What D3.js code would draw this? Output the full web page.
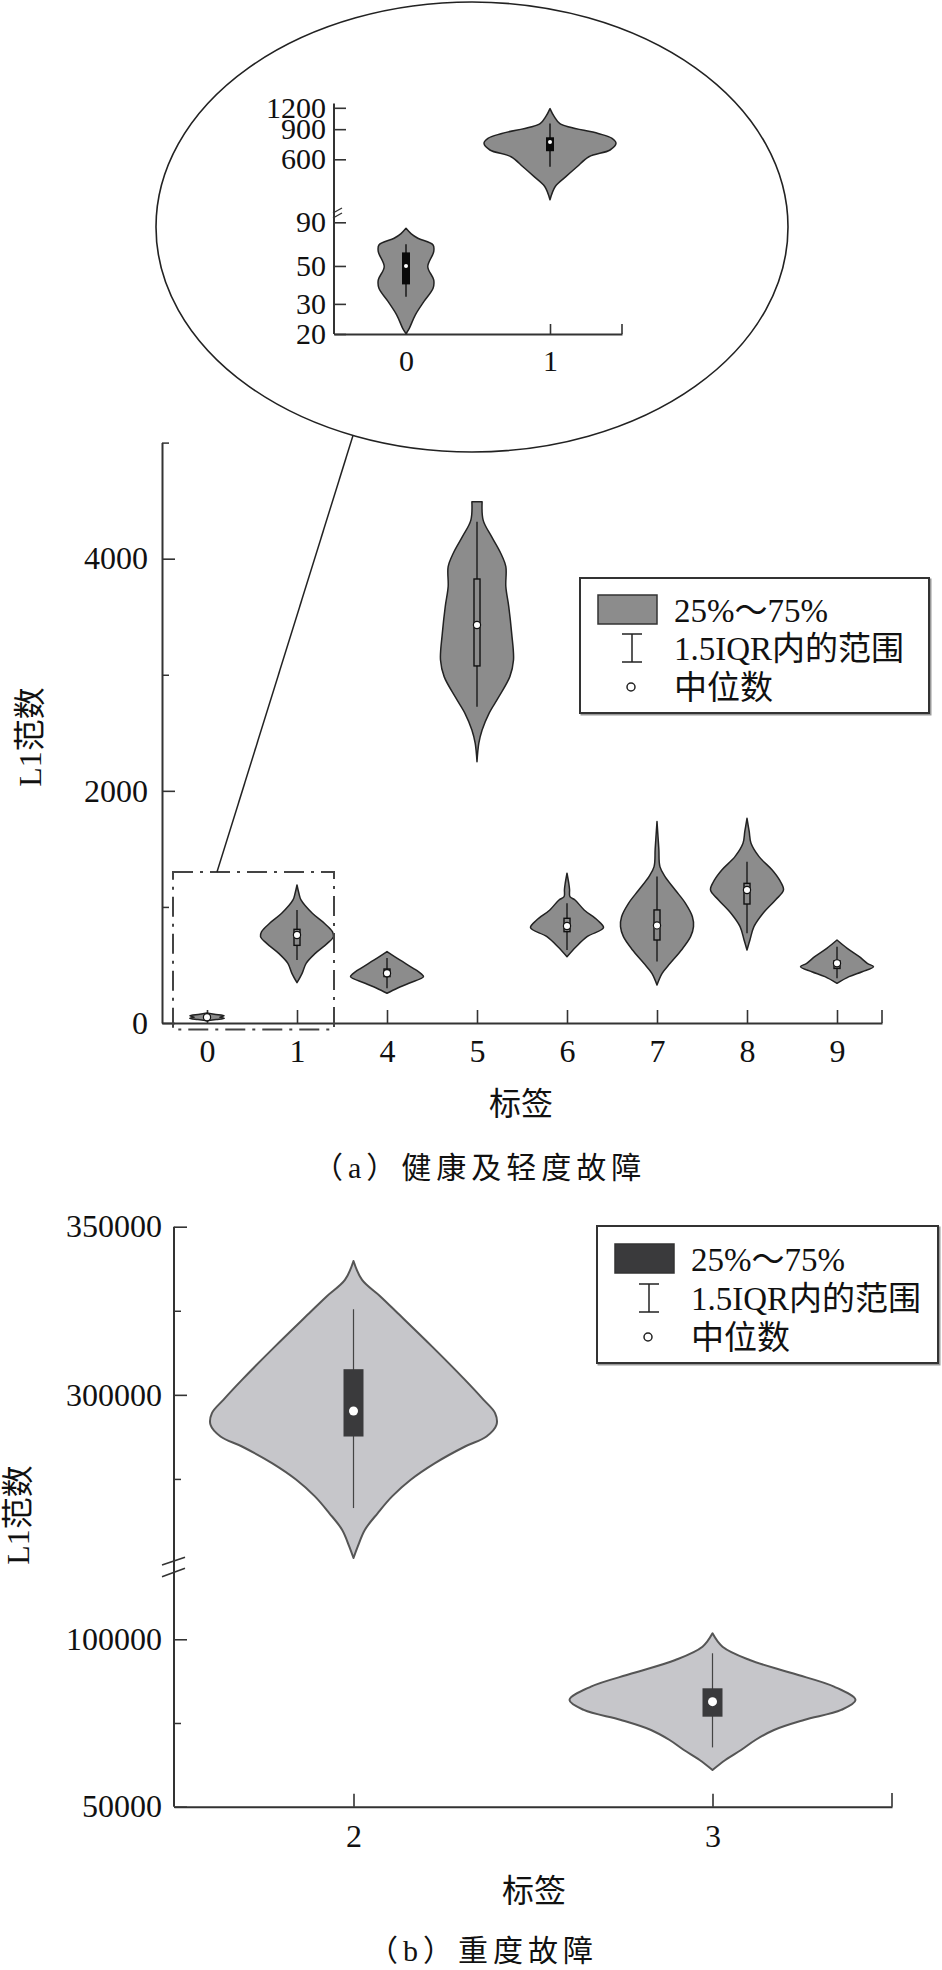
<!DOCTYPE html>
<html><head><meta charset="utf-8">
<script src="https://cdn.jsdelivr.net/npm/d3@7"></script>
<style>body{margin:0;background:#fff}</style>
</head><body><svg id="c" width="942" height="1970" xmlns="http://www.w3.org/2000/svg"></svg>
<script>
// ---------------- DATA ----------------
// (a) healthy & light faults: categories
const catsA = ["0","1","4","5","6","7","8","9"];
// violin outlines: [value, relative density]
const shapeA0 = [[20,0],[30,0.25],[40,0.47],[50,0.35],[62,0.47],[75,0.2],[86,0]];
const shapeA1 = [[347,0],[428,0.14],[514,0.25],[600,0.5],[686,0.83],[744,1.0],[787,0.97],[859,0.75],[945,0.42],[1060,0.11],[1120,0.05],[1189,0]];
const shapeA4 = [[256,0],[299,0.28],[342,0.6],[399,1.0],[425,0.93],[471,0.72],[543,0.35],[615,0]];
const shapeA5 = [[2251,0],[2410,0.05],[2524,0.14],[2668,0.33],[2811,0.6],[2984,0.9],[3127,1.0],[3357,0.95],[3587,0.87],[3759,0.79],[3931,0.79],[4047,0.65],[4190,0.4],[4330,0.17],[4491,0.14]];
const shapeA6 = [[571,0],[657,0.25],[744,0.55],[821,1.0],[887,0.83],[974,0.47],[1060,0.22],[1088,0.08],[1150,0.07],[1200,0.05],[1290,0]];
const shapeA7 = [[327,0],[428,0.14],[514,0.36],[629,0.67],[744,0.92],[830,1.0],[916,0.97],[1031,0.78],[1146,0.5],[1261,0.22],[1347,0.08],[1500,0.05],[1735,0]];
const shapeA8 = [[629,0],[715,0.08],[830,0.19],[945,0.44],[1060,0.78],[1146,1.0],[1232,0.89],[1318,0.69],[1433,0.33],[1548,0.11],[1650,0.06],[1763,0]];
const shapeA9 = [[342,0],[399,0.33],[442,0.69],[485,1.0],[514,0.83],[571,0.61],[643,0.28],[715,0]];
// box statistics per category
const q1A  = [39, 669, 400, 3076, 787, 715, 1025, 470];
const medA = [50, 758, 428, 3429, 836, 841, 1146, 514];
const q3A  = [60, 807, 465, 3825, 902, 974, 1203, 535];
const loA  = [33, 543, 300, 2725, 628, 529, 773, 385];
const hiA  = [67, 973, 560, 4319, 1031, 1261, 1390, 657];
const yTicksA = [0, 2000, 4000];
const yMinorA = [1000, 3000, 5000];

// inset (log scale, broken axis)
const catsIn = ["0","1"];
const insetShape0 = [[20.1,0],[21.6,0.05],[25.8,0.14],[30.9,0.27],[37,0.41],[41.4,0.42],[49.5,0.33],[60.6,0.42],[66.3,0.41],[72.6,0.18],[77,0.08],[83,0]];
const insetShape1 = [[348,0],[416,0.08],[475,0.24],[543,0.41],[621,0.59],[680,0.91],[744,1.0],[795,0.94],[850,0.73],[971,0.15],[1072,0.06],[1187,0]];
const insetTicksLow = [20, 30, 50, 90];
const insetTicksHigh = [600, 900, 1200];

// (b) severe faults
const catsB = ["2","3"];
const shapeB2 = [[251480,0],[254950,0.03],[259900,0.08],[264850,0.17],[269800,0.27],[274750,0.4],[279700,0.57],[284640,0.78],[287610,0.93],[291090,1.0],[294560,0.99],[298520,0.91],[304460,0.78],[314350,0.55],[324270,0.31],[329200,0.19],[334170,0.06],[339800,0]];
const shapeB3 = [[60960,0],[63950,0.09],[66940,0.2],[69920,0.3],[72910,0.43],[75900,0.64],[78890,0.9],[81870,1.0],[85860,0.85],[89840,0.56],[93820,0.26],[97790,0.07],[101790,0]];
const q1B  = [287610, 76880];
const medB = [295190, 81360];
const q3B  = [307630, 85360];
const loB  = [266340, 67710];
const hiB  = [325460, 95820];
const yTicksBHigh = [300000, 350000];
const yMinorBHigh = [275000, 325000];
const yTicksBLow = [50000, 100000];
const yMinorBLow = [75000];

const legendLabels = ["25%～75%", "1.5IQR内的范围", "中位数"];
const yTitle = "L1范数";
const xTitle = "标签";
const captionA = "（a）健康及轻度故障";
const captionB = "（b）重度故障";

// ---------------- DRAW ----------------
const FONT = "'Liberation Serif','Times New Roman','Noto Sans CJK SC',serif";
const svg = d3.select("#c");
svg.append("rect").attr("width",942).attr("height",1970).attr("fill","#fff");

function styleAxis(g, fs) {
  g.select(".domain").attr("stroke","#333").attr("stroke-width", 2);
  g.selectAll(".tick line").attr("stroke","#333").attr("stroke-width",1.6);
  g.selectAll(".tick text").attr("fill","#111").attr("font-family",FONT).attr("font-size", fs || 32);
}

function drawViolin(g, shape, cx, yS, wS, fill, stroke, sw) {
  const area = d3.area().curve(d3.curveCatmullRom.alpha(0.5))
    .y(d => yS(d[0])).x0(d => cx - wS(d[1])).x1(d => cx + wS(d[1]));
  g.append("path").attr("d", area(shape)).attr("fill", fill)
    .attr("stroke", stroke).attr("stroke-width", sw).attr("stroke-linejoin","round");
}

// ===== (a) main chart =====
const gA = svg.append("g");
const xA = d3.scalePoint().domain(catsA).range([162, 882]).padding(0.5);
const yA = d3.scaleLinear().domain([0, 5000]).range([1023, 442.6]);
const wA = d3.scaleLinear().domain([0, 1]).range([0, 36.5]);
const shapesA = [shapeA0, shapeA1, shapeA4, shapeA5, shapeA6, shapeA7, shapeA8, shapeA9];

const yAxA = gA.append("g").attr("transform","translate(162,0)")
  .call(d3.axisLeft(yA).tickValues(yTicksA).tickSizeInner(-13).tickSizeOuter(0).tickPadding(14).tickFormat(d3.format("d")));
styleAxis(yAxA);
const yMinA = gA.append("g").attr("transform","translate(162,0)")
  .call(d3.axisLeft(yA).tickValues(yMinorA).tickSizeInner(-7).tickSizeOuter(0).tickFormat(""));
yMinA.select(".domain").remove();
yMinA.selectAll("line").attr("stroke","#333").attr("stroke-width",1.5);
const xAxA = gA.append("g").attr("transform","translate(0,1023)")
  .call(d3.axisBottom(xA).tickSizeInner(-13).tickSizeOuter(0).tickPadding(16));
styleAxis(xAxA);
xAxA.selectAll(".tick text").attr("dy","0.71em");
gA.append("line").attr("x1",xA.range()[1]).attr("x2",xA.range()[1]).attr("y1",1023).attr("y2",1010)
  .attr("stroke","#333").attr("stroke-width",1.6);

catsA.forEach((c, i) => {
  const cx = xA(c);
  drawViolin(gA, shapesA[i], cx, yA, wA, "#8c8c8c", "#222", 1.5);
  gA.append("line").attr("x1",cx).attr("x2",cx).attr("y1",yA(loA[i])).attr("y2",yA(hiA[i]))
    .attr("stroke","#111").attr("stroke-width",1.3);
  gA.append("rect").attr("x",cx-3).attr("width",6).attr("y",yA(q3A[i])).attr("height",yA(q1A[i])-yA(q3A[i]))
    .attr("fill","#8c8c8c").attr("stroke","#111").attr("stroke-width",1.4);
  gA.append("circle").attr("cx",cx).attr("cy",yA(medA[i])).attr("r",3.6)
    .attr("fill","#fff").attr("stroke","#111").attr("stroke-width",1.2);
});

// zoom rectangle (dash-dot) around categories 0 and 1
const rx0 = xA("0") - 34, rx1 = xA("1") + 37, ry0 = yA(1300), ry1 = yA(-55);
gA.append("rect").attr("x",rx0).attr("y",ry0).attr("width",rx1-rx0).attr("height",ry1-ry0)
  .attr("fill","none").attr("stroke","#444").attr("stroke-width",2).attr("stroke-dasharray","20,7,3,7");

// ellipse + connector
svg.append("ellipse").attr("cx",472).attr("cy",227).attr("rx",316).attr("ry",225)
  .attr("fill","none").attr("stroke","#222").attr("stroke-width",1.6);
svg.append("line").attr("x1",353).attr("y1",435.5).attr("x2",rx0+44).attr("y2",ry0)
  .attr("stroke","#222").attr("stroke-width",1.5);

function drawLegend(x, y, w, h, patchFill, rowY) {
  const g = svg.append("g");
  g.append("rect").attr("x",x+1.5).attr("y",y+1.5).attr("width",w).attr("height",h)
    .attr("fill","none").attr("stroke","#999").attr("stroke-width",2);
  g.append("rect").attr("x",x).attr("y",y).attr("width",w).attr("height",h)
    .attr("fill","#fff").attr("stroke","#333").attr("stroke-width",2);
  g.append("rect").attr("x",x+18).attr("y",rowY[0]-15).attr("width",59).attr("height",29)
    .attr("fill",patchFill).attr("stroke","#333").attr("stroke-width",1.5);
  const ix = x+52;
  g.append("line").attr("x1",ix).attr("x2",ix).attr("y1",rowY[1]-14).attr("y2",rowY[1]+14).attr("stroke","#222").attr("stroke-width",1.5);
  g.append("line").attr("x1",ix-10).attr("x2",ix+10).attr("y1",rowY[1]-14).attr("y2",rowY[1]-14).attr("stroke","#222").attr("stroke-width",1.5);
  g.append("line").attr("x1",ix-10).attr("x2",ix+10).attr("y1",rowY[1]+14).attr("y2",rowY[1]+14).attr("stroke","#222").attr("stroke-width",1.5);
  g.append("circle").attr("cx",ix-1).attr("cy",rowY[2]).attr("r",4).attr("fill","#fff").attr("stroke","#222").attr("stroke-width",1.5);
  legendLabels.forEach((t,i) => {
    g.append("text").attr("x",x+94).attr("y",rowY[i]).attr("dy","0.36em")
      .attr("font-family",FONT).attr("font-size",33).attr("fill","#111").text(t);
  });
}
drawLegend(580, 578, 349, 135, "#8c8c8c", [610, 648, 687]);

svg.append("text").attr("transform","translate(41,737) rotate(-90)").attr("text-anchor","middle")
  .attr("font-family",FONT).attr("font-size",32).attr("fill","#111").text(yTitle);
svg.append("text").attr("x",521).attr("y",1103).attr("dy","0.36em").attr("text-anchor","middle")
  .attr("font-family",FONT).attr("font-size",32).attr("fill","#111").text(xTitle);
svg.append("text").attr("x",313).attr("y",1167).attr("dy","0.36em")
  .attr("font-family",FONT).attr("font-size",30).attr("letter-spacing",5).attr("fill","#111").text(captionA);

// ===== inset =====
const gI = svg.append("g");
const xI = d3.scalePoint().domain(catsIn).range([334, 622]).padding(0.5);
const yILow = d3.scaleLog().domain([20, 90]).range([334, 222.3]);
const yIHigh = d3.scaleLog().domain([600, 1200]).range([159.3, 107.8]);
const wI = d3.scaleLinear().domain([0, 1]).range([0, 66]);
gI.append("line").attr("x1",334).attr("x2",334).attr("y1",yIHigh(1270)).attr("y2",334).attr("stroke","#333").attr("stroke-width",2);
[[yILow, insetTicksLow],[yIHigh, insetTicksHigh]].forEach(([s, tv]) => {
  const ax = gI.append("g").attr("transform","translate(334,0)")
    .call(d3.axisLeft(s).tickValues(tv).tickSizeInner(-12).tickSizeOuter(0).tickPadding(8).tickFormat(d3.format("d")));
  ax.select(".domain").remove();
  styleAxis(ax, 30);
});
const xAxI = gI.append("g").attr("transform","translate(0,334)")
  .call(d3.axisBottom(xI).tickSizeInner(-10).tickSizeOuter(0).tickPadding(16));
styleAxis(xAxI, 30);
xAxI.selectAll(".tick text").attr("dy","0.71em");
gI.append("line").attr("x1",xI.range()[1]).attr("x2",xI.range()[1]).attr("y1",334).attr("y2",324).attr("stroke","#333").attr("stroke-width",1.6);
[213, 218].forEach(yy => gI.append("line").attr("x1",333).attr("y1",yy).attr("x2",342).attr("y2",yy-5).attr("stroke","#333").attr("stroke-width",1.4));

const insetScales = [yILow, yIHigh];
const insetShapes = [insetShape0, insetShape1];
catsIn.forEach((c, i) => {
  const cx = xI(c), s = insetScales[i];
  drawViolin(gI, insetShapes[i], cx, s, wI, "#8c8c8c", "#222", 1.5);
  gI.append("line").attr("x1",cx).attr("x2",cx).attr("y1",s(loA[i])).attr("y2",s(hiA[i])).attr("stroke","#111").attr("stroke-width",1.4);
  gI.append("rect").attr("x",cx-4).attr("width",8).attr("y",s(q3A[i])).attr("height",s(q1A[i])-s(q3A[i])).attr("fill","#0a0a0a");
  gI.append("circle").attr("cx",cx).attr("cy",s(medA[i])).attr("r",2).attr("fill","#fff");
});

// ===== (b) =====
const gB = svg.append("g");
const xB = d3.scalePoint().domain(catsB).range([174, 892]).padding(0.5);
const yBHigh = d3.scaleLinear().domain([250000, 350000]).range([1563, 1226.7]);
const yBLow = d3.scaleLinear().domain([50000, 120000]).range([1806.7, 1572.3]);
const wB = d3.scaleLinear().domain([0, 1]).range([0, 143]);
gB.append("line").attr("x1",174).attr("x2",174).attr("y1",1226.7).attr("y2",1806.7).attr("stroke","#333").attr("stroke-width",2);
[[yBHigh, yTicksBHigh, yMinorBHigh],[yBLow, yTicksBLow, yMinorBLow]].forEach(([s, tv, mv]) => {
  const ax = gB.append("g").attr("transform","translate(174,0)")
    .call(d3.axisLeft(s).tickValues(tv).tickSizeInner(-13).tickSizeOuter(0).tickPadding(12).tickFormat(d3.format("d")));
  ax.select(".domain").remove();
  styleAxis(ax);
  const am = gB.append("g").attr("transform","translate(174,0)")
    .call(d3.axisLeft(s).tickValues(mv).tickSizeInner(-7).tickSizeOuter(0).tickFormat(""));
  am.select(".domain").remove();
  am.selectAll("line").attr("stroke","#333").attr("stroke-width",1.5);
});
const xAxB = gB.append("g").attr("transform","translate(0,1806.7)")
  .call(d3.axisBottom(xB).tickSizeInner(-13).tickSizeOuter(0).tickPadding(18));
styleAxis(xAxB);
xAxB.selectAll(".tick text").attr("dy","0.71em");
gB.append("line").attr("x1",xB.range()[1]).attr("x2",xB.range()[1]).attr("y1",1806.7).attr("y2",1793).attr("stroke","#333").attr("stroke-width",1.6);
[[1565,1557.3],[1576.7,1568.3]].forEach(([a,b]) => gB.append("line").attr("x1",162).attr("y1",a).attr("x2",185).attr("y2",b).attr("stroke","#333").attr("stroke-width",1.6));

const shapesB = [shapeB2, shapeB3];
const scalesB = [yBHigh, yBLow];
catsB.forEach((c, i) => {
  const cx = xB(c), s = scalesB[i];
  drawViolin(gB, shapesB[i], cx, s, wB, "#c6c6ca", "#555", 2);
  gB.append("line").attr("x1",cx).attr("x2",cx).attr("y1",s(loB[i])).attr("y2",s(hiB[i])).attr("stroke","#444").attr("stroke-width",1.2);
  gB.append("rect").attr("x",cx-10).attr("width",20).attr("y",s(q3B[i])).attr("height",s(q1B[i])-s(q3B[i])).attr("fill","#3a3a3c");
  gB.append("circle").attr("cx",cx).attr("cy",s(medB[i])).attr("r",4.5).attr("fill","#fff");
});

drawLegend(597, 1226, 341, 137, "#3a3a3c", [1259, 1298, 1337]);

svg.append("text").attr("transform","translate(29,1515) rotate(-90)").attr("text-anchor","middle")
  .attr("font-family",FONT).attr("font-size",32).attr("fill","#111").text(yTitle);
svg.append("text").attr("x",534).attr("y",1890).attr("dy","0.36em").attr("text-anchor","middle")
  .attr("font-family",FONT).attr("font-size",32).attr("fill","#111").text(xTitle);
svg.append("text").attr("x",368).attr("y",1950).attr("dy","0.36em")
  .attr("font-family",FONT).attr("font-size",30).attr("letter-spacing",5).attr("fill","#111").text(captionB);
</script></body></html>
